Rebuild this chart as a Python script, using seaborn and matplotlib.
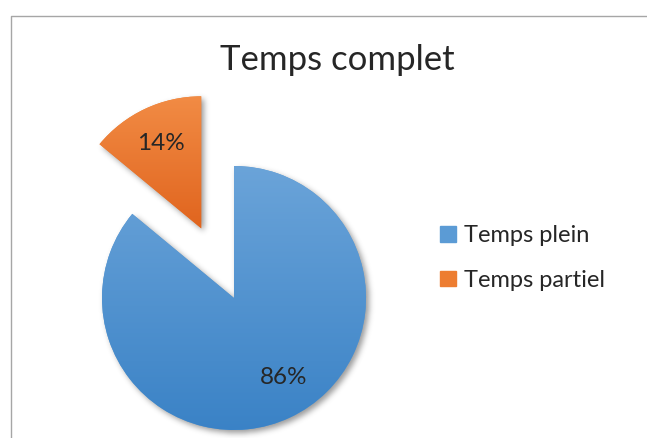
import numpy as np
import matplotlib
matplotlib.use("Agg")
import matplotlib.pyplot as plt
from matplotlib.colors import LinearSegmentedColormap
from matplotlib.patches import Rectangle
import seaborn as sns

# Data
categories = ["Temps plein", "Temps partiel"]
values = [86, 14]
title = "Temps complet"

sns.set_theme(style="white")
plt.rcParams["font.family"] = ["Lato", "DejaVu Sans"]

W, H = 647, 438
fig = plt.figure(figsize=(W / 100, H / 100), dpi=100)
ax = fig.add_axes([0, 0, 1, 1])

base_colors = ["#5b9bd5", "#ed7d31"]
grad_colors = [("#6ba4d9", "#3a82c6"), ("#f28c45", "#e0641e")]

cx, cy, r = 234, 140, 132
# pie explode offsets are in data units (pixels here)
wedges, texts, autotexts = ax.pie(
    values,
    colors=base_colors,
    startangle=90,
    counterclock=False,
    explode=[0, 77],
    center=(cx, cy),
    radius=r,
    autopct="%1.0f%%",
    pctdistance=0.72,
    textprops=dict(fontsize=17.5, color="#262626"),
    wedgeprops=dict(linewidth=0),
)
for t in texts:
    t.set_visible(False)

ax.set_xlim(0, W)
ax.set_ylim(0, H)
ax.set_aspect("auto")
ax.axis("off")

# soft drop shadow under the slices
yy, xx = np.mgrid[0:H, 0:W]
pts = np.column_stack([xx.ravel() + 0.5 - 3, yy.ravel() + 0.5 + 3])
mask = np.zeros(H * W, dtype=float)
for w in wedges:
    p = w.get_path().transformed(w.get_patch_transform())
    mask = np.maximum(mask, p.contains_points(pts).astype(float))
mask = mask.reshape(H, W)
k = np.exp(-0.5 * (np.arange(-9, 10) / 3.0) ** 2)
k /= k.sum()
mask = np.apply_along_axis(lambda m: np.convolve(m, k, mode="same"), 0, mask)
mask = np.apply_along_axis(lambda m: np.convolve(m, k, mode="same"), 1, mask)
shadow = np.zeros((H, W, 4))
shadow[..., 3] = mask * 0.4
ax.imshow(shadow, extent=(0, W, 0, H), origin="lower", zorder=0.5, interpolation="bilinear")

# vertical gradient fill inside each slice
for w, (top, bot) in zip(wedges, grad_colors):
    w.set_zorder(1)
    bb = w.get_path().transformed(w.get_patch_transform()).get_extents()
    cmap = LinearSegmentedColormap.from_list("g", [bot, top])
    grad = np.linspace(0, 1, 256).reshape(-1, 1)
    im = ax.imshow(grad, cmap=cmap, extent=(bb.x0 - 2, bb.x1 + 2, bb.y0 - 2, bb.y1 + 2),
                   origin="lower", aspect="auto", zorder=1.5, interpolation="bilinear")
    im.set_clip_path(w)

ax.set_xlim(0, W)
ax.set_ylim(0, H)

# value labels
label_pos = [(284, H - 377), (161, H - 144)]
for t, pos in zip(autotexts, label_pos):
    t.set_position(pos)
    t.set_zorder(3)
    t.set_ha("center")
    t.set_va("center")

ax.text(W / 2 + 14, H - 60, title, ha="center", va="center", fontsize=25, color="#262626")

# legend
handles = [Rectangle((0, 0), 1, 1, color=c) for c in base_colors]
leg = ax.legend(handles, categories, loc="center left", bbox_to_anchor=(431 / W, 1 - 258 / H),
                frameon=False, fontsize=17, handlelength=0.65, handleheight=0.65,
                handletextpad=0.35, labelspacing=1.0, borderaxespad=0, labelcolor="#262626")

# chart area border (top and left edges)
ax.plot([10.5, 10.5, W], [0, H - 15.5, H - 15.5], color="#a6a6a6", lw=1, zorder=4,
        solid_capstyle="butt")

fig.savefig("out.png", dpi=100)
